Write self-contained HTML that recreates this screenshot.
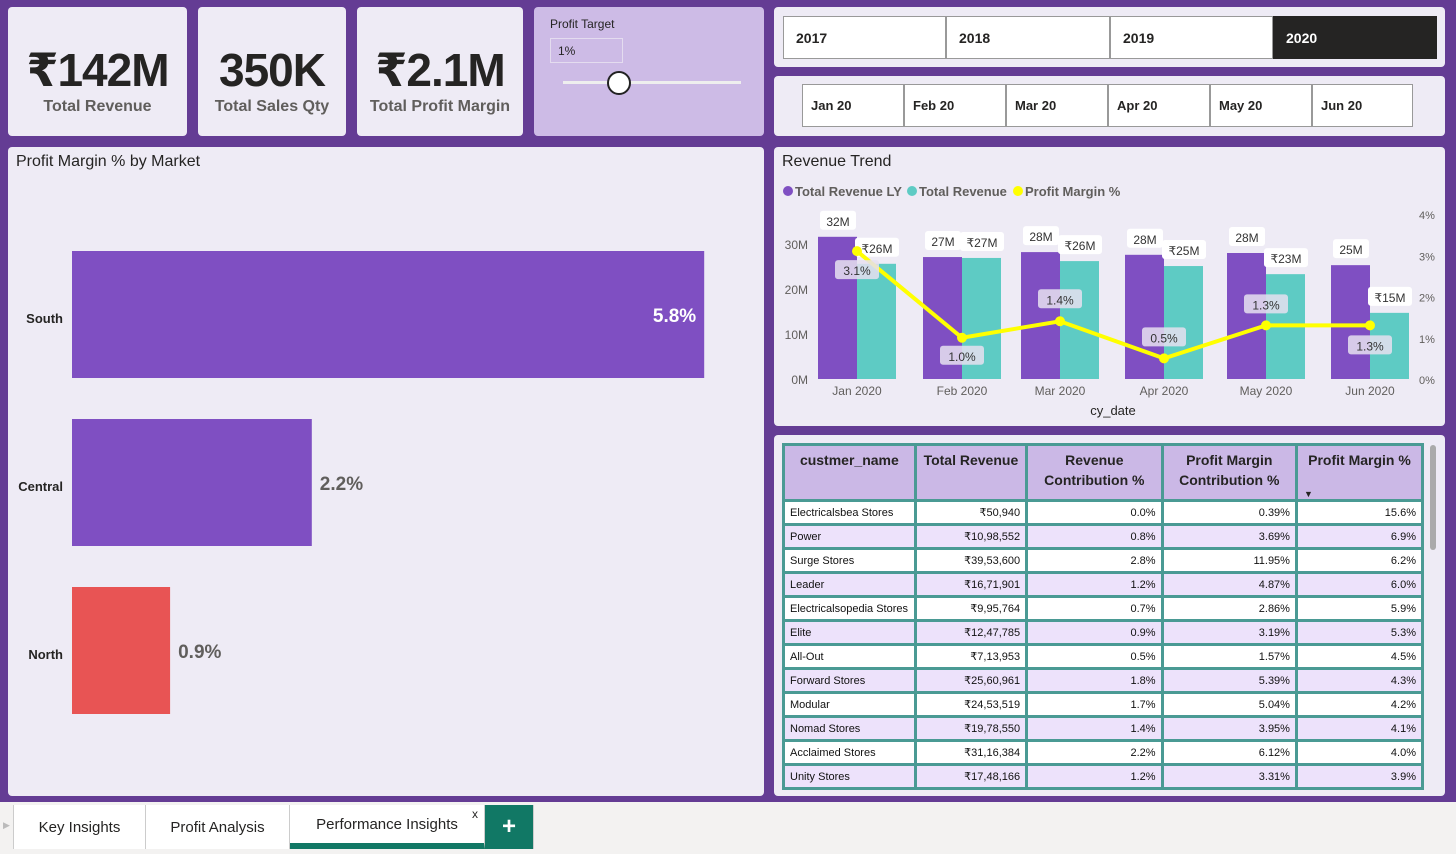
<!DOCTYPE html>
<html><head><meta charset="utf-8">
<style>
*{box-sizing:border-box;margin:0;padding:0}
body{width:1456px;height:854px;overflow:hidden;font-family:"Liberation Sans","DejaVu Sans",sans-serif;background:#643c94;position:relative}
.card{position:absolute;background:#eeebf5;border-radius:4px}
.kv{position:absolute;left:0;right:0;text-align:center;font-weight:bold;color:#252423}
.big{top:36px;font-size:46px;letter-spacing:-1px}
.lab{top:90px;font-size:16px;color:#605e5c}
.btn{position:absolute;background:#fff;border:1px solid #999;font-size:14px;font-weight:bold;color:#252423;padding-left:12px;display:flex;align-items:center}
.title{position:absolute;left:8px;top:6px;font-size:16px;color:#252423}
table{border-collapse:collapse;font-size:11px;color:#111}
td,th{border:3px solid #4a9a94;height:24px;padding:0 5px}
th{background:#cbb8e6;font-size:14px;vertical-align:top;padding-top:4px;height:56px;color:#252423;line-height:20px}
td.n{text-align:right}
tr:nth-child(even) td{background:#ede2fb}
tr:nth-child(odd) td{background:#fff}
.tab{position:absolute;top:805px;height:44px;background:#fff;font-size:15px;color:#252423;display:flex;align-items:center;justify-content:center;border-right:1px solid #ccc}
</style></head><body>
<div class="card" style="left:8px;top:7px;width:179px;height:129px"><div class="kv big">₹142M</div><div class="kv lab" style="top:91px">Total Revenue</div></div>
<div class="card" style="left:198px;top:7px;width:148px;height:129px"><div class="kv big">350K</div><div class="kv lab" style="top:91px">Total Sales Qty</div></div>
<div class="card" style="left:357px;top:7px;width:166px;height:129px"><div class="kv big">₹2.1M</div><div class="kv lab" style="top:91px">Total Profit Margin</div></div>
<div class="card" style="left:534px;top:7px;width:230px;height:129px;background:#cdbbe6">
<div style="position:absolute;left:16px;top:10px;font-size:12px;color:#252423">Profit Target</div>
<div style="position:absolute;left:16px;top:31px;width:73px;height:25px;border:1px solid #e4dcef;font-size:12px;padding:5px 7px;color:#252423">1%</div>
<div style="position:absolute;left:29px;top:74px;width:178px;height:3px;background:#eee"></div>
<div style="position:absolute;left:73px;top:64px;width:24px;height:24px;border-radius:50%;background:#fff;border:2px solid #222"></div>
</div>
<div class="card" style="left:774px;top:7px;width:671px;height:60px"></div>
<div class="btn" style="left:783px;top:16px;width:163px;height:43px">2017</div>
<div class="btn" style="left:946px;top:16px;width:164px;height:43px">2018</div>
<div class="btn" style="left:1110px;top:16px;width:163px;height:43px">2019</div>
<div class="btn" style="left:1273px;top:16px;width:164px;height:43px;background:#252423;color:#fff;border-color:#252423">2020</div>
<div class="card" style="left:774px;top:76px;width:671px;height:60px"></div>
<div class="btn" style="left:802px;top:84px;width:102px;height:43px;font-size:13px;padding-left:8px">Jan 20</div>
<div class="btn" style="left:904px;top:84px;width:102px;height:43px;font-size:13px;padding-left:8px">Feb 20</div>
<div class="btn" style="left:1006px;top:84px;width:102px;height:43px;font-size:13px;padding-left:8px">Mar 20</div>
<div class="btn" style="left:1108px;top:84px;width:102px;height:43px;font-size:13px;padding-left:8px">Apr 20</div>
<div class="btn" style="left:1210px;top:84px;width:102px;height:43px;font-size:13px;padding-left:8px">May 20</div>
<div class="btn" style="left:1312px;top:84px;width:101px;height:43px;font-size:13px;padding-left:8px">Jun 20</div>

<div class="card" style="left:8px;top:147px;width:756px;height:649px">
<div class="title">Profit Margin % by Market</div>
<svg id="mk" width="756" height="649" style="position:absolute;left:0;top:0"></svg></div>

<div class="card" style="left:774px;top:147px;width:671px;height:279px">
<div class="title">Revenue Trend</div>
<svg id="rt" width="671" height="279" style="position:absolute;left:0;top:0"></svg></div>

<div class="card" style="left:774px;top:435px;width:671px;height:361px;overflow:hidden">
<table style="position:absolute;left:8px;top:8px;width:642px">
<colgroup><col style="width:132px"><col style="width:112px"><col style="width:136px"><col style="width:135px"><col style="width:127px"></colgroup>
<thead><tr><th>custmer_name</th><th>Total Revenue</th><th>Revenue Contribution %</th><th>Profit Margin Contribution %</th><th style="position:relative">Profit Margin %<span style="position:absolute;left:6px;top:38px;font-size:9px">▼</span></th></tr></thead>
<tbody id="tb"></tbody></table>
<div style="position:absolute;left:656px;top:10px;width:6px;height:105px;background:#aaa;border-radius:3px"></div>
</div>

<div style="position:absolute;left:0;top:802px;width:1456px;height:52px;background:#f3f2f1"></div>
<div style="position:absolute;left:3px;top:820px;font-size:9px;color:#bbb">▶</div>
<div class="tab" style="left:13px;width:133px;border-left:1px solid #ccc">Key Insights</div>
<div class="tab" style="left:146px;width:144px">Profit Analysis</div>
<div class="tab" style="left:290px;width:195px;border-bottom:6px solid #117865">Performance Insights<span style="position:absolute;right:6px;top:2px;font-size:12px">x</span></div>
<div class="tab" style="left:485px;width:49px;background:#117865;color:#fff;font-size:24px;font-weight:bold;height:44px">+</div>

<script>
const NS="http://www.w3.org/2000/svg";
function mk(svg,tag,attrs,txt){const e=document.createElementNS(NS,tag);for(const k in attrs)e.setAttribute(k,attrs[k]);if(txt!=null)e.textContent=txt;svg.appendChild(e);return e;}
// Market chart
const markets=["South","Central","North"];
const marketMargins=[5.8,2.2,0.9];
const marketColors=["#7f4fc2","#7f4fc2","#e85454"];
const m=document.getElementById('mk');
const mx=v=>64+v*109, rowY=i=>104+i*168;
markets.forEach((c,i)=>{
  const r=mk(m,'rect',{x:64,y:rowY(i),width:mx(marketMargins[i])-64,height:127,fill:marketColors[i]});
  
  
  const l=mk(m,'text',{x:55,y:rowY(i)+72,'text-anchor':'end','font-size':13,'font-weight':'bold',fill:'#252423'},c);
  
  
  const inside=i===0;
  const v=mk(m,'text',{x:inside?mx(marketMargins[i])-8:mx(marketMargins[i])+8,y:rowY(i)+71,'text-anchor':inside?'end':'start','font-size':19,'font-weight':'bold',fill:inside?'#fff':'#605e5c'},marketMargins[i].toFixed(1)+'%');
  
  
});
// Revenue trend
const months=["Jan 2020","Feb 2020","Mar 2020","Apr 2020","May 2020","Jun 2020"];
const revenueLY=[31.6,27.1,28.2,27.6,28.0,25.3];
const revenueLYLabels=["32M","27M","28M","28M","28M","25M"];
const revenueCY=[25.6,26.9,26.2,25.1,23.3,14.7];
const revenueCYLabels=["₹26M","₹27M","₹26M","₹25M","₹23M","₹15M"];
const profitMargin=[3.1,1.0,1.4,0.5,1.3,1.3];
const leftTicks=[0,10,20,30];
const rightTicks=[0,1,2,3,4];
const s=document.getElementById('rt');
const base=232, yL=v=>base-v*4.5, yR=v=>base-v*41.25;
const cx=[83,188,286,390,492,596];
const labelOffset=[20,19,-21,-20,-20,21];
const xc=i=>cx[i];
[["#7f4fc2","Total Revenue LY",14],["#5ecbc4","Total Revenue",138],["#ffff00","Profit Margin %",244]].forEach(d=>{
  const g=mk(s,'g',{});
  
  
  mk(g,'circle',{cx:d[2],cy:44,r:5,fill:d[0]});
  mk(g,'text',{x:d[2]+7,y:49,'font-size':13,'font-weight':'bold',fill:'#605e5c'},d[1]);
});
leftTicks.forEach(t=>{const e=mk(s,'text',{x:34,y:yL(t)+5,'text-anchor':'end','font-size':12,fill:'#605e5c'},t+'M');});
rightTicks.forEach(t=>{const e=mk(s,'text',{x:645,y:yR(t)+5,'font-size':11,fill:'#605e5c'},t+'%');});
function lbl(x,y,t,bg,op){mk(s,'rect',{x:x-t.length*4-6,y:y-11,width:t.length*8+12,height:19,rx:3,fill:bg,opacity:op});const e=mk(s,'text',{x:x,y:y+4,'text-anchor':'middle','font-size':12,fill:'#333'},t);}
months.forEach((mo,i)=>{
  const a=mk(s,'rect',{x:xc(i)-39,y:yL(revenueLY[i]),width:39,height:base-yL(revenueLY[i]),fill:'#7f4fc2'});
  
  
  const b=mk(s,'rect',{x:xc(i),y:yL(revenueCY[i]),width:39,height:base-yL(revenueCY[i]),fill:'#5ecbc4'});
  
  
  const t=mk(s,'text',{x:xc(i),y:248,'text-anchor':'middle','font-size':12,fill:'#605e5c'},mo);
  
  
});
const xt=mk(s,'text',{x:339,y:268,'text-anchor':'middle','font-size':13,fill:'#252423'},'cy_date');


months.forEach((mo,i)=>{lbl(xc(i)-19,yL(revenueLY[i])-15,revenueLYLabels[i],'#fff',1);lbl(xc(i)+20,yL(revenueCY[i])-15,revenueCYLabels[i],'#fff',1);});
const pl=mk(s,'polyline',{points:profitMargin.map((v,i)=>xc(i)+','+yR(v)).join(' '),fill:'none',stroke:'#ffff00','stroke-width':4});


profitMargin.forEach((v,i)=>{
  const c=mk(s,'circle',{cx:xc(i),cy:yR(v),r:5,fill:'#ffff00'});
  
  
  lbl(xc(i),yR(v)+labelOffset[i],v.toFixed(1)+'%','#e6e0f0',0.85);
});
// table
const customers=["Electricalsbea Stores","Power","Surge Stores","Leader","Electricalsopedia Stores","Elite","All-Out","Forward Stores","Modular","Nomad Stores","Acclaimed Stores","Unity Stores"];
const totalRevenue=["₹50,940","₹10,98,552","₹39,53,600","₹16,71,901","₹9,95,764","₹12,47,785","₹7,13,953","₹25,60,961","₹24,53,519","₹19,78,550","₹31,16,384","₹17,48,166"];
const revContrib=["0.0%","0.8%","2.8%","1.2%","0.7%","0.9%","0.5%","1.8%","1.7%","1.4%","2.2%","1.2%"];
const pmContrib=["0.39%","3.69%","11.95%","4.87%","2.86%","3.19%","1.57%","5.39%","5.04%","3.95%","6.12%","3.31%"];
const pmPct=["15.6%","6.9%","6.2%","6.0%","5.9%","5.3%","4.5%","4.3%","4.2%","4.1%","4.0%","3.9%"];
const tb=document.getElementById('tb');
customers.forEach((c,i)=>{
  const tr=document.createElement('tr');
  
  
  tr.innerHTML='<td>'+c+'</td><td class="n">'+totalRevenue[i]+'</td><td class="n">'+revContrib[i]+'</td><td class="n">'+pmContrib[i]+'</td><td class="n">'+pmPct[i]+'</td>';
  tb.appendChild(tr);
});
</script>
</body></html>
